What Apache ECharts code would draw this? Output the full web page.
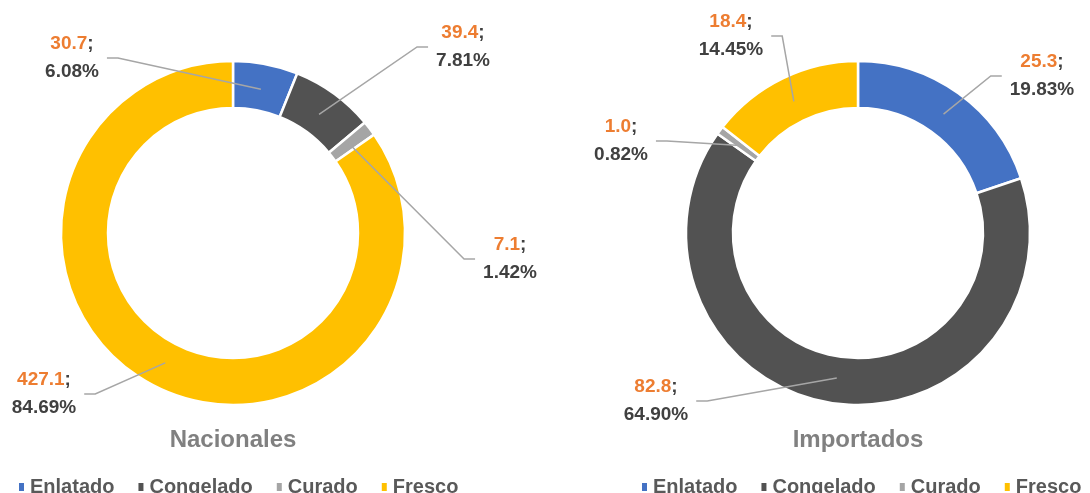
<!DOCTYPE html>
<html>
<head>
<meta charset="utf-8">
<script src="https://cdn.jsdelivr.net/npm/echarts@6/dist/echarts.min.js"></script>
<style>
  html, body { margin: 0; padding: 0; background: #fff; }
  #main { width: 1090px; height: 493px; }
</style>
</head>
<body>
<div id="main"></div>
<script>
// categories and values (kt)
const categories = ["Enlatado", "Congelado", "Curado", "Fresco"];
const nacionalesValues = [30.7, 39.4, 7.1, 427.1];
const nacionalesPct = ["6.08%", "7.81%", "1.42%", "84.69%"];
const importadosValues = [25.3, 82.8, 1.0, 18.4];
const importadosPct = ["19.83%", "64.90%", "0.82%", "14.45%"];
const titles = ["Nacionales", "Importados"];

const colors = ["#4472C4", "#525252", "#A5A5A5", "#FFC000"];
const FONT = "'Liberation Sans', Arial, sans-serif";

// where the data labels sit (center x, middle y), per chart
const labelPos = [
  [[72, 58], [463, 47], [510, 259], [44, 394]],
  [[1042, 76], [656, 401], [621, 141], [731, 36]]
];
const centers = [[233, 233], [858, 233]];
const R_IN = 125, R_OUT = 172;

const chartDom = document.getElementById("main");
const myChart = echarts.init(chartDom);

// the ring itself
function ringSeries(idx, values) {
  return {
    type: "pie",
    name: titles[idx],
    center: centers[idx],
    radius: [R_IN, R_OUT],
    startAngle: 90,
    clockwise: true,
    z: 2,
    silent: true,
    itemStyle: { borderColor: "#fff", borderWidth: 2.5 },
    label: { show: false },
    labelLine: { show: false },
    data: categories.map((c, i) => ({ name: c, value: values[i] }))
  };
}

// same ring, invisible, only carrying labels + leader lines above the ring
function labelSeries(idx, values, pct) {
  const total = values.reduce((a, b) => a + b, 0);
  const [cx, cy] = centers[idx];
  const txt = { fontSize: 19, fontWeight: "bold", fontFamily: FONT, lineHeight: 28 };
  return {
    type: "pie",
    name: titles[idx] + " labels",
    center: centers[idx],
    radius: [R_IN, R_OUT],
    startAngle: 90,
    clockwise: true,
    z: 3,
    silent: true,
    avoidLabelOverlap: false,
    itemStyle: { color: "rgba(0,0,0,0)", borderWidth: 0 },
    data: categories.map((c, i) => ({
      name: c,
      value: values[i],
      label: {
        formatter: "{v|" + values[i].toFixed(1) + "}{s|;}\n{p|" + pct[i] + "}"
      }
    })),
    label: Object.assign({
      show: true,
      position: "outside",
      rich: {
        v: Object.assign({ color: "#ED7D31" }, txt),
        s: Object.assign({ color: "#404040" }, txt),
        p: Object.assign({ color: "#404040" }, txt)
      }
    }, txt),
    labelLine: {
      show: true,
      lineStyle: { color: "#A6A6A6", width: 1.5 }
    },
    labelLayout: function (params) {
      const i = params.dataIndex;
      let cum = 0;
      for (let k = 0; k < i; k++) cum += values[k];
      const ang = (90 - 360 * (cum + values[i] / 2) / total) * Math.PI / 180;
      const rMid = (R_IN + R_OUT) / 2 - 2;
      const sx = cx + rMid * Math.cos(ang);
      const sy = cy - rMid * Math.sin(ang);
      const [lx, ly] = labelPos[idx][i];
      const w = params.labelRect.width;
      let ex, kx;
      if (lx < sx) {
        ex = lx + w / 2 + 8;
        kx = ex + 11;
      } else {
        ex = lx - w / 2 - 8;
        kx = ex - 11;
      }
      return {
        x: lx,
        y: ly,
        align: "center",
        verticalAlign: "middle",
        labelLinePoints: [[sx, sy], [kx, ly], [ex, ly]]
      };
    }
  };
}

const legendBase = {
  data: categories,
  top: 472,
  icon: "rect",
  itemWidth: 7,
  itemHeight: 10,
  itemGap: 22,
  selectedMode: false,
  textStyle: { fontSize: 20, fontWeight: "bold", color: "#595959", fontFamily: FONT }
};

const option = {
  color: colors,
  animation: false,
  title: titles.map((t, i) => ({
    text: t,
    left: centers[i][0],
    top: 428,
    padding: 0,
    textAlign: "center",
    textStyle: { fontSize: 24, fontWeight: "bold", color: "#808080", fontFamily: FONT }
  })),
  legend: [
    Object.assign({}, legendBase, { left: 12 }),
    Object.assign({}, legendBase, { left: 635 })
  ],
  series: [
    ringSeries(0, nacionalesValues),
    ringSeries(1, importadosValues),
    labelSeries(0, nacionalesValues, nacionalesPct),
    labelSeries(1, importadosValues, importadosPct)
  ]
};

option && myChart.setOption(option);
</script>
</body>
</html>
